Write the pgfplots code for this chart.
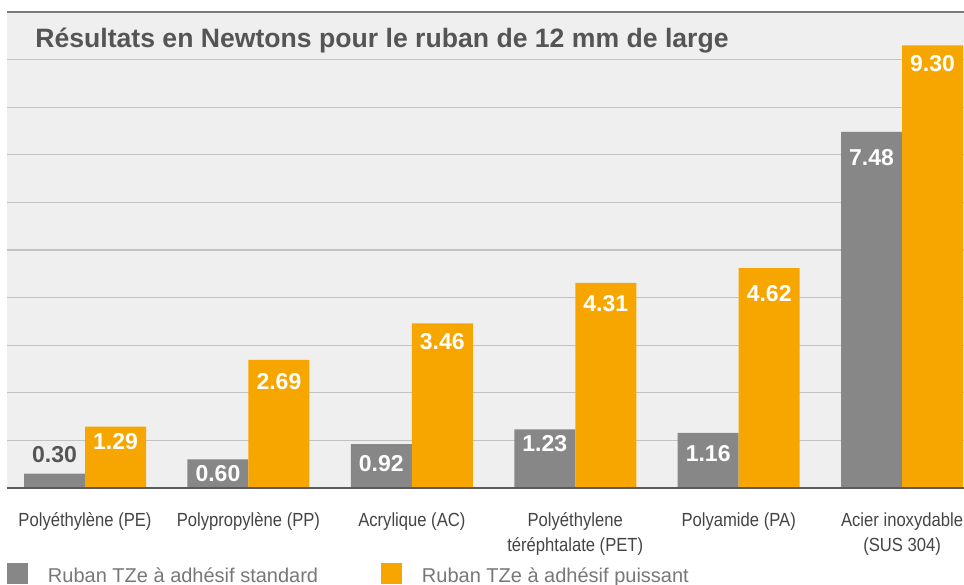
\documentclass[border=0pt]{standalone}
\usepackage{fontspec}
\setmainfont{Liberation Sans}
\newfontfamily\condfont[FakeStretch=0.875]{Liberation Sans}
\usepackage{pgfplots}
\pgfplotsset{compat=1.18}
\usepackage{pgfplotstable}
\definecolor{bargray}{HTML}{878787}
\definecolor{barorange}{HTML}{F7A600}
\definecolor{bgcol}{HTML}{EFEFEF}
\definecolor{gridcol}{HTML}{C2C2C2}
\definecolor{topcol}{HTML}{7A7A7A}
\definecolor{axcol}{HTML}{5A5A5A}
\definecolor{titlecol}{HTML}{555555}
\definecolor{tickcol}{HTML}{444444}
\definecolor{legcol}{HTML}{777777}
\definecolor{lblgray}{HTML}{555555}

\pgfplotstableread{
x y lab off
0 0.30 0.30 9.8
1 0.60 0.60 -7.3
2 0.92 0.92 -9.6
3 1.23 1.23 -7.0
4 1.16 1.16 -10.3
5 7.48 7.48 -12.7
}\standard

\pgfplotstableread{
x y lab off
0 1.29 1.29 -7.4
1 2.69 2.69 -10.7
2 3.46 3.46 -9.1
3 4.31 4.31 -10.3
4 4.62 4.62 -12.7
5 9.30 9.30 -8.9
}\puissant

\pgfplotsset{
  sq legend/.style={legend image code/.code={\fill[##1] (0pt,-1pt) rectangle (10.5pt,9.5pt); \path (20.5pt,0pt);}},
}

\begin{document}
\begin{tikzpicture}
\useasboundingbox (0,0) rectangle (482pt,292pt);
\begin{axis}[
  at={(3.5pt,48pt)}, anchor=south west,
  scale only axis, width=478.5pt, height=238pt,
  xmin=-0.4774, xmax=5.379, ymin=0, ymax=10,
  axis line style={draw=none},
  axis background/.style={fill=bgcol},
  ytick={1,2,3,4,5,6,7,8,9}, yticklabel={}, ymajorgrids,
  major grid style={draw=gridcol, line width=0.6pt},
  ytick style={draw=none},
  xtick={0,1,2,3,4,5}, xtick style={draw=none},
  xticklabels={{\strut Polyéthylène (PE)},{\strut Polypropylène (PP)},{\strut Acrylique (AC)},{\strut Polyéthylene\\téréphtalate (PET)},{\strut Polyamide (PA)},{\strut Acier inoxydable\\(SUS 304)}},
  xticklabel style={font=\condfont\fontsize{9.5}{12.5}\selectfont, text=tickcol, anchor=north, inner sep=0pt, align=center, yshift=-6.25pt},
  ybar=0pt, bar width=30.5pt,
  legend columns=2,
  legend style={draw=none, fill=none, inner sep=0pt, outer sep=0pt,
    at={(0,-0.15756)}, anchor=north west,
    font=\fontsize{10}{12}\selectfont, text=legcol,
    nodes={inner sep=0pt},
    cells={anchor=base west},
    /tikz/every even column/.append style={column sep=31.4pt}},
]
\addplot[fill=bargray, draw=none, bar shift=-15.25pt, sq legend]
  table[x=x, y=y]{\standard};
\addlegendentry{Ruban TZe à adhésif standard}
\addplot[fill=barorange, draw=none, bar shift=15.25pt, sq legend]
  table[x=x, y=y]{\puissant};
\addlegendentry{Ruban TZe à adhésif puissant}
\addplot[draw=none, fill=none, bar shift=-15.25pt, forget plot,
  nodes near coords, point meta=explicit symbolic,
  visualization depends on={\thisrow{off}\as\off},
  every node near coord/.append style={anchor=center, yshift=\off pt, text=white,
      font=\bfseries\fontsize{11.5}{13}\selectfont}]
  table[x=x, y=y, meta=lab, skip coords between index={0}{1}]{\standard};
\addplot[draw=none, fill=none, bar shift=15.25pt, forget plot,
  nodes near coords, point meta=explicit symbolic,
  visualization depends on={\thisrow{off}\as\off},
  every node near coord/.append style={anchor=center, yshift=\off pt, text=white,
      font=\bfseries\fontsize{11.5}{13}\selectfont}]
  table[x=x, y=y, meta=lab]{\puissant};
\addplot[draw=none, fill=none, bar shift=-15.25pt, forget plot,
  nodes near coords, point meta=explicit symbolic,
  every node near coord/.append style={anchor=center, yshift=9.8pt, text=lblgray,
      font=\bfseries\fontsize{11.5}{13}\selectfont}]
  coordinates {(0,0.30) [0.30]};
\draw[axcol, line width=1pt] (rel axis cs:0,0) -- (rel axis cs:1,0);
\draw[topcol, line width=0.75pt] (rel axis cs:0,1) -- (rel axis cs:1,1);
\end{axis}
\node[anchor=base west, inner sep=0pt, text=titlecol, font=\bfseries\fontsize{13.3}{15}\selectfont]
  at (17.5pt,268pt) {Résultats en Newtons pour le ruban de 12 mm de large};
\end{tikzpicture}
\end{document}
